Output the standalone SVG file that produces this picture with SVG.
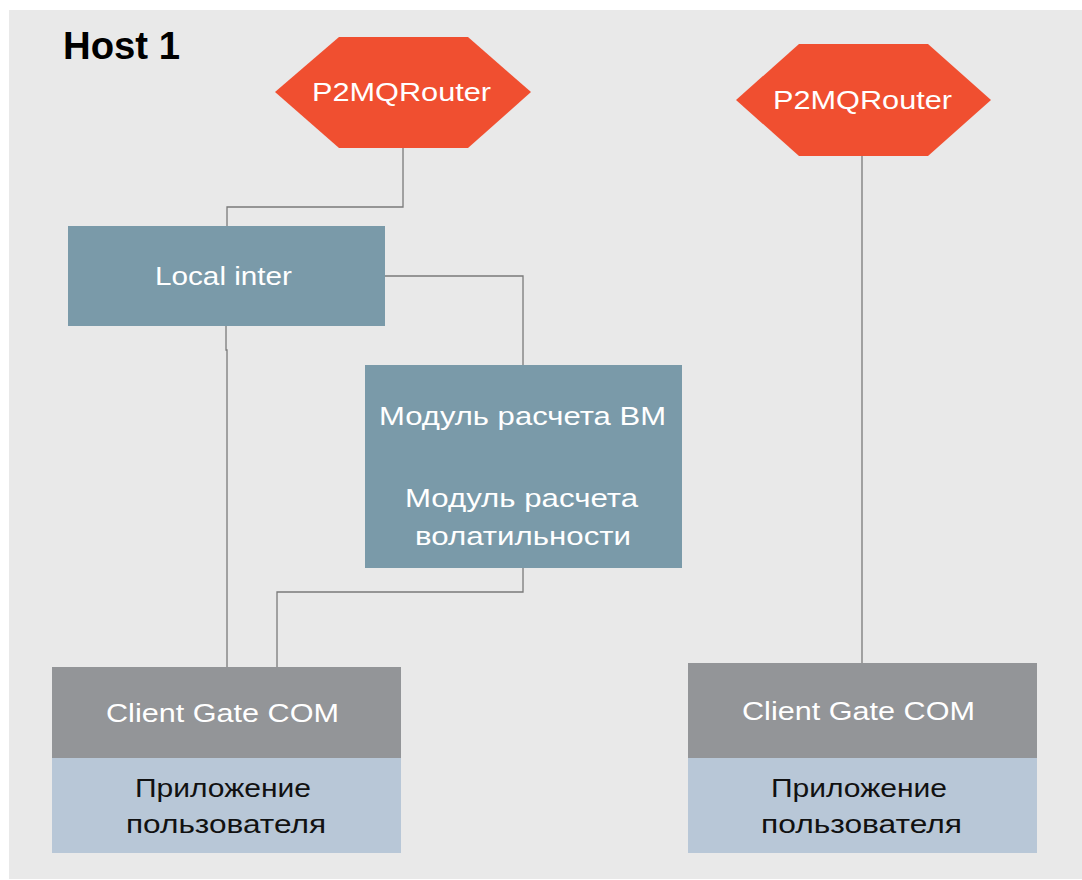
<svg xmlns="http://www.w3.org/2000/svg" width="1082" height="880" viewBox="0 0 1082 880">
<style>
.t{font-family:"Liberation Sans",Arial,sans-serif;font-size:26px;text-anchor:middle}
.w{fill:#ffffff}
.k{fill:#111111}
.hex{fill:#f04f30}
.mod{fill:#7a9aa9}
.gate{fill:#939598}
.app{fill:#b8c7d7}
.ln{fill:none;stroke:#7a7a7a;stroke-width:1.3}
</style>
<rect x="0" y="0" width="1082" height="880" fill="#ffffff"/>
<rect x="9" y="10" width="1073" height="869" fill="#e9e9e9"/>
<text x="63" y="59" font-family="Liberation Sans,Arial,sans-serif" font-weight="bold" font-size="39" fill="#000000" textLength="117" lengthAdjust="spacingAndGlyphs">Host 1</text>
<g id="connectors">
<path class="ln" d="M403 148 V207 H227 V226"/>
<path class="ln" d="M385 276 H523 V365"/>
<path class="ln" d="M226 326 V350 H227 V667"/>
<path class="ln" d="M523 568 V592 H277 V667"/>
<path class="ln" d="M862 156 V663"/>
</g>
<g id="router1">
<polygon class="hex" points="275,92 339,37 468,37 531,92 468,148 339,148"/>
<text class="t w" x="401.5" y="101" font-size="27" textLength="179" lengthAdjust="spacingAndGlyphs">P2MQRouter</text>
</g>
<g id="router2">
<polygon class="hex" points="736,100 799,44 928,44 991,100 928,156 799,156"/>
<text class="t w" x="862.5" y="109" font-size="27" textLength="179" lengthAdjust="spacingAndGlyphs">P2MQRouter</text>
</g>
<g id="localinter">
<rect class="mod" x="68" y="226" width="317" height="100"/>
<text class="t w" x="223.5" y="285" textLength="137" lengthAdjust="spacingAndGlyphs">Local inter</text>
</g>
<g id="modules">
<rect class="mod" x="365" y="365" width="317" height="203"/>
<text class="t w" x="522.5" y="425" font-size="28.5" textLength="287" lengthAdjust="spacingAndGlyphs">Модуль расчета ВМ</text>
<text class="t w" x="521.5" y="507" font-size="28.5" textLength="233" lengthAdjust="spacingAndGlyphs">Модуль расчета</text>
<text class="t w" x="523" y="545" font-size="28.5" textLength="216" lengthAdjust="spacingAndGlyphs">волатильности</text>
</g>
<g id="client1">
<rect class="gate" x="52" y="667" width="349" height="91"/>
<rect class="app" x="52" y="758" width="349" height="95"/>
<text class="t w" x="222.5" y="722" textLength="233" lengthAdjust="spacingAndGlyphs">Client Gate COM</text>
<text class="t k" x="223" y="797" textLength="176" lengthAdjust="spacingAndGlyphs">Приложение</text>
<text class="t k" x="226" y="833" textLength="200" lengthAdjust="spacingAndGlyphs">пользователя</text>
</g>
<g id="client2">
<rect class="gate" x="688" y="663" width="349" height="95"/>
<rect class="app" x="688" y="758" width="349" height="95"/>
<text class="t w" x="858.5" y="720" textLength="233" lengthAdjust="spacingAndGlyphs">Client Gate COM</text>
<text class="t k" x="859" y="797" textLength="176" lengthAdjust="spacingAndGlyphs">Приложение</text>
<text class="t k" x="861.5" y="833" textLength="201" lengthAdjust="spacingAndGlyphs">пользователя</text>
</g>
</svg>
